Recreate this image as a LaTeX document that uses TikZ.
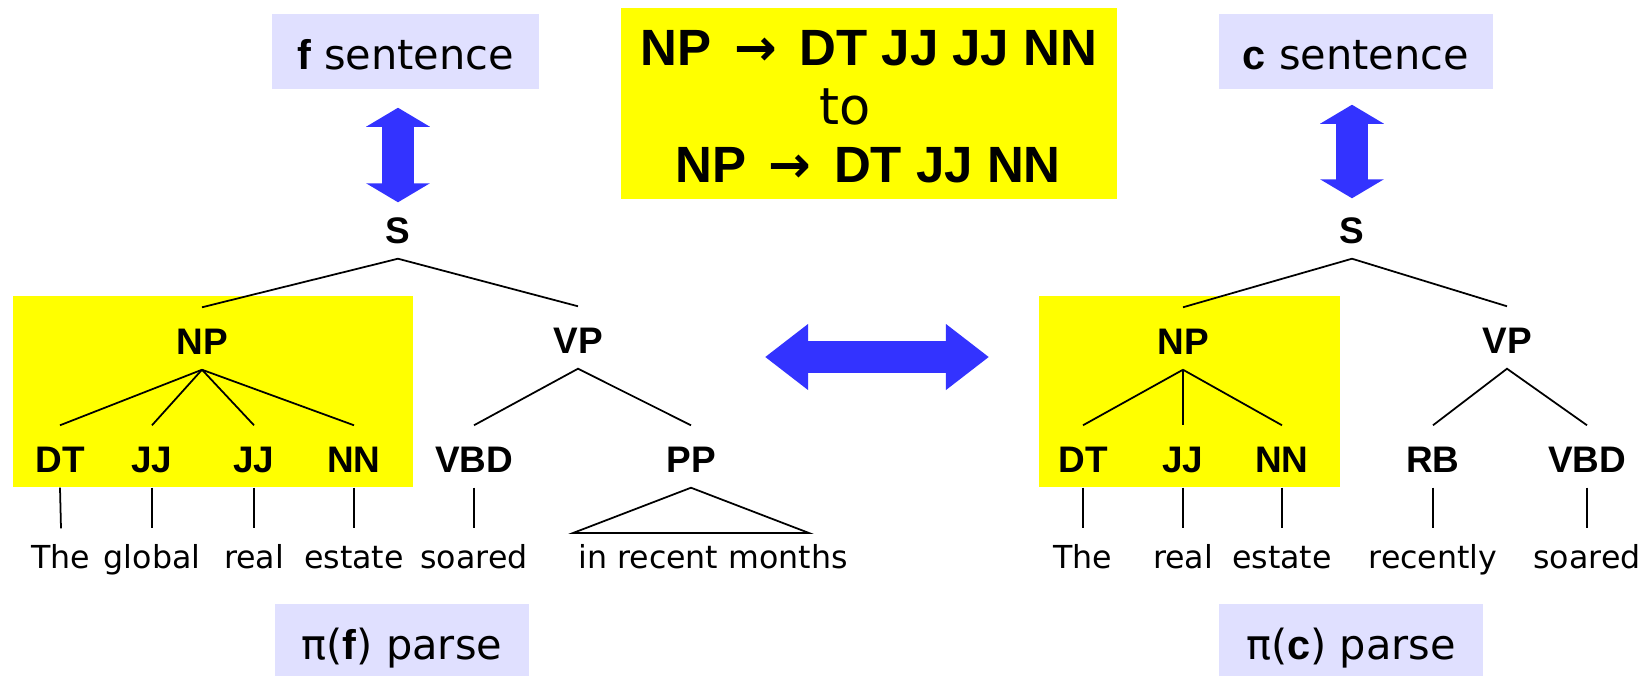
\documentclass[tikz,border=0pt]{standalone}
\usepackage{fontspec}
\setmainfont{DejaVu Sans}[BoldFont={Liberation Sans Bold}]
\newfontfamily\arrowfont{DejaVu Sans}
\usepackage{xcolor}
\usetikzlibrary{arrows.meta}
\definecolor{arrowblue}{RGB}{51,51,255}
\definecolor{lavender}{RGB}{224,224,255}
\definecolor{marker}{RGB}{255,255,0}
\newcommand{\yields}{\,{\arrowfont\bfseries →}\,}

\begin{document}
\begin{tikzpicture}[x=0.01cm, y=-0.01cm,
    cat/.style={font=\fontsize{10.5}{12}\selectfont\bfseries, anchor=base, inner xsep=1pt, inner ysep=0.15cm, text height=0.31cm, text depth=0pt},
    word/.style={font=\fontsize{9}{11}\selectfont, anchor=base, inner sep=0pt, text height=0.39cm, text depth=0pt},
    tag/.style={fill=lavender, font=\fontsize{11.8}{14}\selectfont, minimum height=0.75cm, inner sep=0pt, text height=0.35cm, text depth=0pt},
    rule/.style={font=\fontsize{14.5}{17}\selectfont, anchor=base, inner sep=0pt},
    edge/.style={line width=0.5pt},
    vblock/.style={arrowblue, line width=0.32cm, {Triangle[length=0.19cm, width=0.63cm]}-{Triangle[length=0.19cm, width=0.63cm]}},
    hblock/.style={arrowblue, line width=0.32cm, {Triangle[length=0.43cm, width=0.63cm]}-{Triangle[length=0.43cm, width=0.63cm]}}]
    \useasboundingbox (0,0) rectangle (1650,675);

    % highlighted NP subtrees
    \fill[marker] (13,296) rectangle (413,487);
    \fill[marker] (1039,296) rectangle (1340,487);

    % rule change in the middle
    \node[fill=marker, minimum width=4.96cm, minimum height=1.91cm] (rulebox) at (869,103.5) {};
    \node[rule] (ruleold) at (869,65) {\bfseries NP \yields{} DT JJ JJ NN};
    \node[rule] (ruleto) at (845,124) {to};
    \node[rule] (rulenew) at (868,182) {\bfseries NP \yields{} DT JJ NN};

    % sentence and parse labels
    \node[tag, minimum width=2.67cm] (fsent) at (405.5,51.5) {\textbf{f} sentence};
    \node[tag, minimum width=2.74cm] (csent) at (1356,51.5) {\textbf{c} sentence};
    \node[tag, minimum width=2.54cm] (fparse) at (402,641.5) {π(\textbf{f}) parse};
    \node[tag, minimum width=2.64cm] (cparse) at (1351,641.5) {π(\textbf{c}) parse};

    % left tree
    \node[cat] (fS) at (398,243) {S};
    \node[cat] (fNP) at (202,354) {NP};
    \node[cat] (fVP) at (578,353) {VP};
    \node[cat] (fDT) at (60,472) {DT};
    \node[cat] (fJJa) at (152,472) {JJ};
    \node[cat] (fJJb) at (254,472) {JJ};
    \node[cat] (fNN) at (354,472) {NN};
    \node[cat] (fVBD) at (474,472) {VBD};
    \node[cat] (fPP) at (691,472) {PP};
    \node[word] (fThe) at (61,568) {The};
    \node[word] (fglobal) at (152,568) {global};
    \node[word] (freal) at (254,568) {real};
    \node[word] (festate) at (354,568) {estate};
    \node[word] (fsoared) at (474,568) {soared};
    \node[word] (fmonths) at (713,568) {in recent months};
    \coordinate (fppl) at (573,533);
    \coordinate (fppr) at (809,533);

    \draw[edge] (fNP.north) -- (fS.south) -- (fVP.north);
    \foreach \c in {fDT,fJJa,fJJb,fNN} \draw[edge] (fNP.south) -- (\c.north);
    \draw[edge] (fVBD.north) -- (fVP.south) -- (fPP.north);
    \foreach \p/\w in {fDT/fThe,fJJa/fglobal,fJJb/freal,fNN/festate,fVBD/fsoared}
        \draw[edge] (\p.south) -- (\w.north);
    \draw[edge] (fPP.south) -- (fppl) -- (fppr) -- cycle;

    % right tree
    \node[cat] (cS) at (1352,243) {S};
    \node[cat] (cNP) at (1183,354) {NP};
    \node[cat] (cVP) at (1507,353) {VP};
    \node[cat] (cDT) at (1083,472) {DT};
    \node[cat] (cJJ) at (1183,472) {JJ};
    \node[cat] (cNN) at (1282,472) {NN};
    \node[cat] (cRB) at (1433,472) {RB};
    \node[cat] (cVBD) at (1587,472) {VBD};
    \node[word] (cThe) at (1083,568) {The};
    \node[word] (creal) at (1183,568) {real};
    \node[word] (cestate) at (1282,568) {estate};
    \node[word] (crecently) at (1433,568) {recently};
    \node[word] (csoared) at (1587,568) {soared};

    \draw[edge] (cNP.north) -- (cS.south) -- (cVP.north);
    \foreach \c in {cDT,cJJ,cNN} \draw[edge] (cNP.south) -- (\c.north);
    \draw[edge] (cRB.north) -- (cVP.south) -- (cVBD.north);
    \foreach \p/\w in {cDT/cThe,cJJ/creal,cNN/cestate,cRB/crecently,cVBD/csoared}
        \draw[edge] (\p.south) -- (\w.north);

    % block arrows
    \draw[vblock] ([yshift=-0.18cm]fS |- fsent.south) -- ([yshift=-0.06cm]fS.north);
    \draw[vblock] ([yshift=-0.15cm]cS |- csent.south) -- ([yshift=-0.02cm]cS.north);
    \coordinate (midl) at (765,357);
    \coordinate (midr) at (989,357);
    \draw[hblock] (midl) -- (midr);
\end{tikzpicture}
\end{document}
